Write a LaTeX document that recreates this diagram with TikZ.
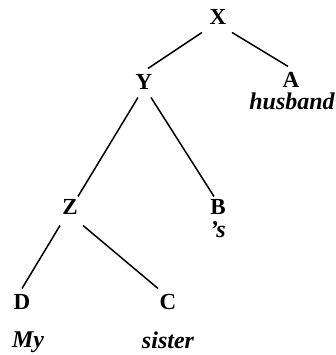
\documentclass[tikz,border=0pt]{standalone}
\usepackage{fontspec}
\setmainfont{Liberation Serif}
\usetikzlibrary{calc}
\begin{document}
\begin{tikzpicture}[x=1pt,y=1pt,
  lab/.style={font=\fontsize{23}{23}\selectfont\bfseries, inner sep=0pt, anchor=base},
  word/.style={font=\fontsize{24}{24}\selectfont\bfseries\itshape, inner sep=0pt, anchor=base},
  edge/.style={line width=1.5pt}]
\useasboundingbox (0,0) rectangle (335,355);
\node[lab] (X) at (218,330) {X};
\node[lab] (Y) at (144,265) {Y};
\node[lab] (A) at (291,267) {A};
\node[word] (husband) at (292,245) {husband};
\node[lab] (Z) at (70,140) {Z};
\node[lab] (B) at (218,140) {B};
\node[word] (s) at (218,117) {'s};
\node[lab] (D) at (22,45) {D};
\node[lab] (C) at (168,45) {C};
\node[word] (My) at (28,7) {My};
\node[word] (sister) at (168,6) {sister};
\draw[edge] ($(X.center)+(-16,-15)$) -- ($(Y.center)+(4,14)$);
\draw[edge] ($(X.center)+(14,-15)$) -- ($(A.center)+(-3,14)$);
\draw[edge] ($(Y.center)+(-6,-15)$) -- ($(Z.center)+(8,11)$);
\draw[edge] ($(Y.center)+(7,-15)$) -- ($(B.center)+(-4,11)$);
\draw[edge] ($(Z.center)+(-10,-18)$) -- ($(D.center)+(0,14)$);
\draw[edge] ($(Z.center)+(13,-18)$) -- ($(C.center)+(-10,14)$);
\end{tikzpicture}
\end{document}
